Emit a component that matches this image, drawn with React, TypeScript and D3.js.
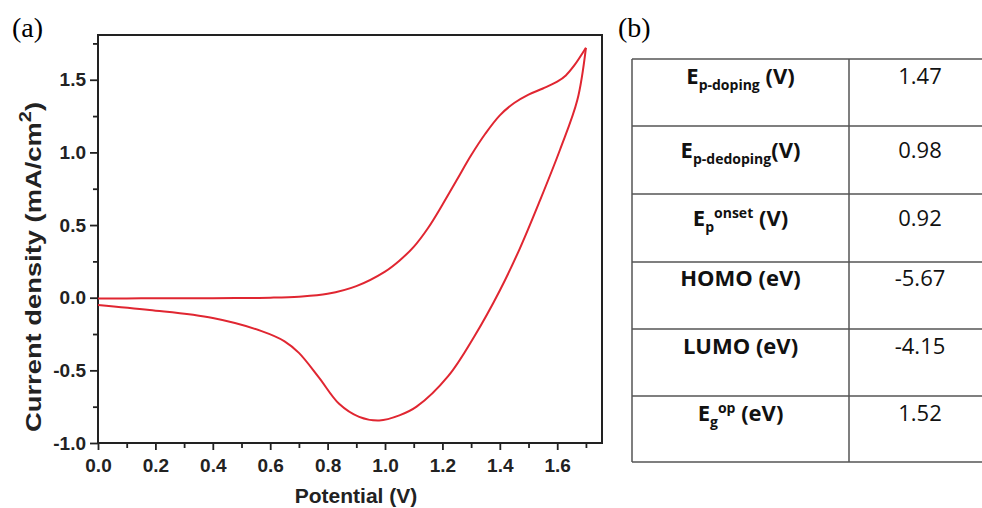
// Cyclic voltammogram (a) with a table of electrochemical values (b)

import React, { useEffect, useRef } from "react"
import * as d3 from "d3"

// anodic (forward) scan, potential in V and current density in mA/cm2
const fwdPotential = [0.0, 0.1, 0.2, 0.3, 0.4, 0.5, 0.6, 0.7, 0.8, 0.9, 1.0, 1.05, 1.1, 1.15, 1.2, 1.25, 1.3, 1.35, 1.4, 1.45, 1.5, 1.55, 1.6, 1.63, 1.66, 1.7]
const fwdCurrent = [-0.005, -0.005, -0.004, -0.004, -0.003, -0.002, 0.0, 0.007, 0.027, 0.08, 0.18, 0.255, 0.35, 0.48, 0.64, 0.81, 0.98, 1.13, 1.255, 1.34, 1.398, 1.44, 1.487, 1.53, 1.6, 1.72]

// cathodic (reverse) scan
const revPotential = [1.7, 1.67, 1.61, 1.54, 1.47, 1.4, 1.31, 1.22, 1.11, 1.05, 0.98, 0.91, 0.84, 0.77, 0.7, 0.65, 0.57, 0.4, 0.18, 0.0]
const revCurrent = [1.72, 1.36, 1.02, 0.67, 0.34, 0.05, -0.27, -0.54, -0.75, -0.81, -0.845, -0.82, -0.73, -0.55, -0.38, -0.3, -0.23, -0.14, -0.085, -0.05]

const xTicks = [0, 0.2, 0.4, 0.6, 0.8, 1.0, 1.2, 1.4, 1.6]
const xMinorTicks = [0.1, 0.3, 0.5, 0.7, 0.9, 1.1, 1.3, 1.5, 1.7]
const yTicks = [-1.0, -0.5, 0.0, 0.5, 1.0, 1.5]
const yMinorTicks = [-0.75, -0.25, 0.25, 0.75, 1.25, 1.75]

// table (b): each label is a list of [text, kind] pieces
const tableLabels = [
  [["E", ""], ["p-doping", "sub"], [" (V)", ""]],
  [["E", ""], ["p-dedoping", "sub"], ["(V)", ""]],
  [["E", ""], ["p", "sub"], ["onset", "sup"], [" (V)", ""]],
  [["HOMO (eV)", ""]],
  [["LUMO (eV)", ""]],
  [["E", ""], ["g", "sub"], ["op", "sup"], [" (eV)", ""]],
]
const tableValues = ["1.47", "0.98", "0.92", "-5.67", "-4.15", "1.52"]

function App() {
  const ref = useRef(null)

  useEffect(() => {
    const svg = d3.select(ref.current)
    svg.selectAll("*").remove()

    const left = 98, right = 602, top = 35, bottom = 443
    const x = d3.scaleLinear().domain([0, 1.756]).range([left, right])
    const y = d3.scaleLinear().domain([-1, 1.808]).range([bottom, top])

    const axisFont = "'Liberation Sans', Arial, sans-serif"

    // minor ticks first
    svg.append("g")
      .attr("transform", `translate(${left},0)`)
      .call(d3.axisLeft(y).tickValues(yMinorTicks).tickSize(5).tickFormat(() => "").tickSizeOuter(0))
    svg.append("g")
      .attr("transform", `translate(0,${bottom})`)
      .call(d3.axisBottom(x).tickValues(xMinorTicks).tickSize(5).tickFormat(() => "").tickSizeOuter(0))

    const yAxis = svg.append("g")
      .attr("transform", `translate(${left},0)`)
      .call(d3.axisLeft(y).tickValues(yTicks).tickSize(8).tickPadding(4).tickSizeOuter(0).tickFormat(d => d.toFixed(1)))
    const xAxis = svg.append("g")
      .attr("transform", `translate(0,${bottom})`)
      .call(d3.axisBottom(x).tickValues(xTicks).tickSize(7).tickPadding(9).tickSizeOuter(0).tickFormat(d => d.toFixed(1)))

    for (const ax of [yAxis, xAxis]) {
      ax.selectAll("text")
        .style("font-family", axisFont)
        .style("font-weight", "bold")
        .style("font-size", "19px")
        .attr("fill", "#222")
    }
    svg.selectAll(".tick line").attr("stroke", "#222").attr("stroke-width", 1.8)
    svg.selectAll(".domain").remove()

    // frame
    svg.append("rect")
      .attr("x", left).attr("y", top)
      .attr("width", right - left).attr("height", bottom - top)
      .attr("fill", "none").attr("stroke", "#222").attr("stroke-width", 2)

    // curves
    const line = d3.line().x(d => x(d[0])).y(d => y(d[1])).curve(d3.curveCatmullRom.alpha(0.5))
    const fwd = fwdPotential.map((v, i) => [v, fwdCurrent[i]])
    const rev = revPotential.map((v, i) => [v, revCurrent[i]])
    for (const pts of [fwd, rev]) {
      svg.append("path")
        .attr("d", line(pts))
        .attr("fill", "none")
        .attr("stroke", "#e02631")
        .attr("stroke-width", 2)
    }

    // axis titles
    svg.append("text")
      .attr("x", (left + right) / 2 + 6).attr("y", 503)
      .attr("text-anchor", "middle")
      .style("font-family", axisFont).style("font-weight", "bold").style("font-size", "21px")
      .attr("fill", "#222")
      .text("Potential (V)")

    const yt = svg.append("text")
      .attr("transform", "translate(41,267) rotate(-90)")
      .attr("text-anchor", "middle")
      .attr("textLength", 330)
      .attr("lengthAdjust", "spacingAndGlyphs")
      .style("font-family", axisFont).style("font-weight", "bold").style("font-size", "22px")
      .attr("fill", "#222")
    yt.append("tspan").text("Current density (mA/cm")
    yt.append("tspan").attr("dy", -10).style("font-size", "16px").text("2")
    yt.append("tspan").attr("dy", 10).text(")")

    // panel letters
    const serif = "'Liberation Serif', 'Times New Roman', serif"
    svg.append("text").attr("x", 12).attr("y", 37).style("font-family", serif).style("font-size", "28px").text("(a)")
    svg.append("text").attr("x", 618).attr("y", 37).style("font-family", serif).style("font-size", "28px").text("(b)")

    // table
    const tLeft = 632, tMid = 849, tRight = 982
    const rowEdges = [59, 126, 194, 262, 329, 396, 462]
    const textOffset = [25, 32, 32, 24, 25, 25]
    const tg = svg.append("g").attr("stroke", "#555").attr("stroke-width", 1.5)
    rowEdges.forEach(r => {
      tg.append("line").attr("x1", tLeft).attr("x2", tRight).attr("y1", r).attr("y2", r)
    })
    for (const cx of [tLeft, tMid]) {
      tg.append("line").attr("x1", cx).attr("x2", cx).attr("y1", rowEdges[0]).attr("y2", rowEdges[rowEdges.length - 1])
    }

    const tableFont = "'Open Sans', 'Noto Sans', sans-serif"
    tableLabels.forEach((parts, i) => {
      const t = svg.append("text")
        .attr("x", (tLeft + tMid) / 2)
        .attr("y", rowEdges[i] + textOffset[i])
        .attr("text-anchor", "middle")
        .style("font-family", tableFont).style("font-weight", "bold").style("font-size", "22px")
        .attr("fill", "#111")
      let shift = 0
      parts.forEach(([txt, kind]) => {
        const target = kind === "sub" ? 6 : kind === "sup" ? -8 : 0
        const sp = t.append("tspan").attr("dy", target - shift).text(txt)
        if (kind) sp.style("font-size", "14px")
        shift = target
      })
      svg.append("text")
        .attr("x", 920)
        .attr("y", rowEdges[i] + textOffset[i])
        .attr("text-anchor", "middle")
        .style("font-family", tableFont).style("font-size", "22px")
        .attr("fill", "#111")
        .text(tableValues[i])
    })
  }, [])

  return <svg ref={ref} width={982} height={508} style={{ position: "absolute", left: 0, top: 0, background: "#fff" }}></svg>
}

export default App
